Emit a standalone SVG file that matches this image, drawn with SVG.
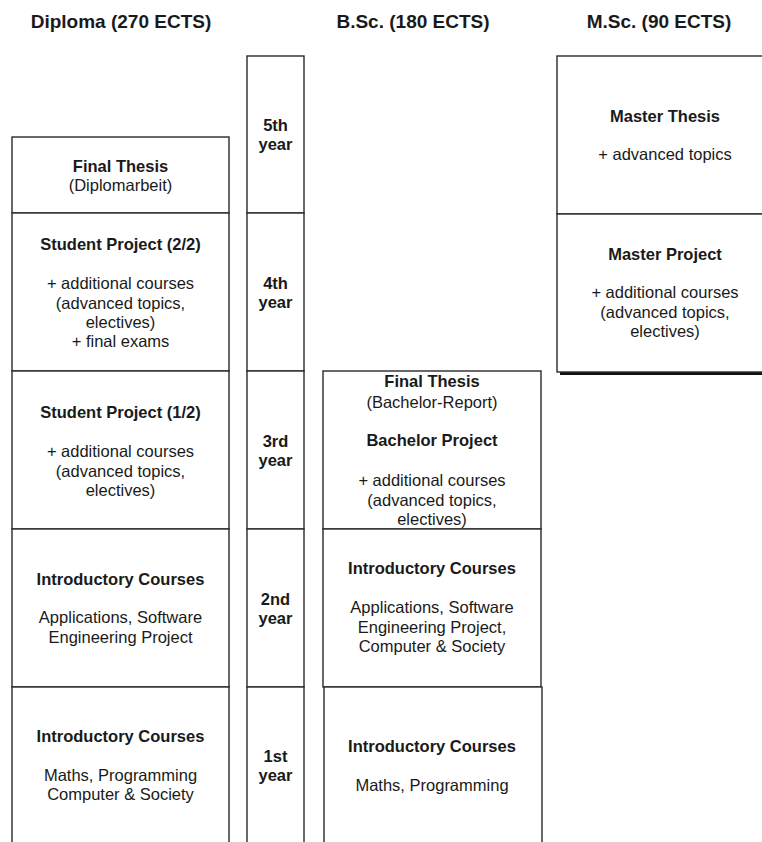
<svg xmlns="http://www.w3.org/2000/svg" width="762" height="842" viewBox="0 0 762 842">
<style>
  .box { fill: #ffffff; stroke: #2a2a2a; stroke-width: 1.4; }
  .shadow { fill: #111111; stroke: none; }
  text { font-family: "Liberation Sans", Arial, Helvetica, sans-serif; fill: #1a1a1a; text-anchor: middle; }
  .hdr { font-size: 19px; font-weight: bold; }
  .t { font-size: 16.5px; font-weight: bold; }
  .n { font-size: 16.5px; }
</style>
<rect width="762" height="842" fill="#ffffff"/>

<g id="headers">
  <text class="hdr" x="121" y="28">Diploma (270 ECTS)</text>
  <text class="hdr" x="413" y="28">B.Sc. (180 ECTS)</text>
  <text class="hdr" x="659" y="28">M.Sc. (90 ECTS)</text>
</g>

<!-- Diploma column -->
<g id="dip-thesis">
  <rect class="box" x="12" y="137" width="217" height="76"/>
  <text class="t" x="120.5" y="172">Final Thesis</text>
  <text class="n" x="120.5" y="191">(Diplomarbeit)</text>
</g>
<g id="dip-project2">
  <rect class="box" x="12" y="213" width="217" height="158"/>
  <text class="t" x="120.5" y="250">Student Project (2/2)</text>
  <text class="n" x="120.5" y="289">+ additional courses</text>
  <text class="n" x="120.5" y="309">(advanced topics,</text>
  <text class="n" x="120.5" y="328">electives)</text>
  <text class="n" x="120.5" y="347">+ final exams</text>
</g>
<g id="dip-project1">
  <rect class="box" x="12" y="371" width="217" height="158"/>
  <text class="t" x="120.5" y="418">Student Project (1/2)</text>
  <text class="n" x="120.5" y="457">+ additional courses</text>
  <text class="n" x="120.5" y="477">(advanced topics,</text>
  <text class="n" x="120.5" y="496">electives)</text>
</g>
<g id="dip-intro2">
  <rect class="box" x="12" y="529" width="217" height="158"/>
  <text class="t" x="120.5" y="585">Introductory Courses</text>
  <text class="n" x="120.5" y="623">Applications, Software</text>
  <text class="n" x="120.5" y="643">Engineering Project</text>
</g>
<g id="dip-intro1">
  <rect class="box" x="12" y="687" width="217" height="170"/>
  <text class="t" x="120.5" y="742">Introductory Courses</text>
  <text class="n" x="120.5" y="781">Maths, Programming</text>
  <text class="n" x="120.5" y="800">Computer &amp; Society</text>
</g>

<!-- Year column -->
<g id="year5">
  <rect class="box" x="247" y="56" width="57" height="157"/>
  <text class="t" x="275.5" y="131">5th</text>
  <text class="t" x="275.5" y="150">year</text>
</g>
<g id="year4">
  <rect class="box" x="247" y="213" width="57" height="158"/>
  <text class="t" x="275.5" y="289">4th</text>
  <text class="t" x="275.5" y="308">year</text>
</g>
<g id="year3">
  <rect class="box" x="247" y="371" width="57" height="158"/>
  <text class="t" x="275.5" y="447">3rd</text>
  <text class="t" x="275.5" y="466">year</text>
</g>
<g id="year2">
  <rect class="box" x="247" y="529" width="57" height="158"/>
  <text class="t" x="275.5" y="605">2nd</text>
  <text class="t" x="275.5" y="624">year</text>
</g>
<g id="year1">
  <rect class="box" x="247" y="687" width="57" height="170"/>
  <text class="t" x="275.5" y="762">1st</text>
  <text class="t" x="275.5" y="781">year</text>
</g>

<!-- B.Sc. column -->
<g id="bsc-year3">
  <rect class="box" x="323" y="371" width="218" height="158"/>
  <text class="t" x="432" y="387">Final Thesis</text>
  <text class="n" x="432" y="408">(Bachelor-Report)</text>
  <text class="t" x="432" y="446">Bachelor Project</text>
  <text class="n" x="432" y="486">+ additional courses</text>
  <text class="n" x="432" y="506">(advanced topics,</text>
  <text class="n" x="432" y="525">electives)</text>
</g>
<g id="bsc-year2">
  <rect class="box" x="323" y="529" width="218" height="158"/>
  <text class="t" x="432" y="574">Introductory Courses</text>
  <text class="n" x="432" y="613">Applications, Software</text>
  <text class="n" x="432" y="633">Engineering Project,</text>
  <text class="n" x="432" y="652">Computer &amp; Society</text>
</g>
<g id="bsc-year1">
  <rect class="box" x="324" y="687" width="218" height="170"/>
  <text class="t" x="432" y="752">Introductory Courses</text>
  <text class="n" x="432" y="791">Maths, Programming</text>
</g>

<!-- M.Sc. column -->
<g id="msc">
  <rect class="shadow" x="560" y="59" width="220" height="316"/>
  <g id="msc-thesis">
    <rect class="box" x="557" y="56" width="220" height="158"/>
    <text class="t" x="665" y="122">Master Thesis</text>
    <text class="n" x="665" y="160">+ advanced topics</text>
  </g>
  <g id="msc-project">
    <rect class="box" x="557" y="214" width="220" height="158"/>
    <text class="t" x="665" y="260">Master Project</text>
    <text class="n" x="665" y="298">+ additional courses</text>
    <text class="n" x="665" y="318">(advanced topics,</text>
    <text class="n" x="665" y="337">electives)</text>
  </g>
</g>
</svg>
